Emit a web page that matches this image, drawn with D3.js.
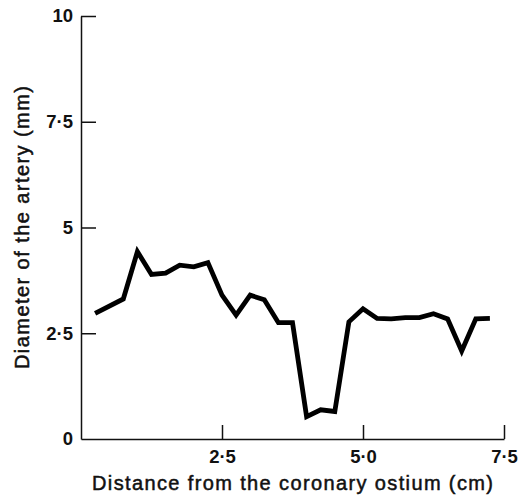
<!DOCTYPE html>
<html><head><meta charset="utf-8">
<script src="https://cdn.jsdelivr.net/npm/d3@7"></script>
<style>body{margin:0;background:#fff}</style>
</head><body>
<svg id="c" width="519" height="497"></svg>
<script>
const distance = [0.25,0.75,1.0,1.25,1.5,1.75,2.0,2.25,2.5,2.75,3.0,3.25,3.5,3.75,4.0,4.25,4.5,4.75,5.0,5.25,5.5,5.75,6.0,6.25,6.5,6.75,7.0,7.25];
const diameter = [2.97,3.31,4.43,3.89,3.92,4.11,4.07,4.17,3.40,2.93,3.40,3.29,2.75,2.75,0.53,0.69,0.65,2.77,3.08,2.85,2.84,2.87,2.87,2.96,2.84,2.08,2.84,2.85];
const xTicks = [2.5,5.0,7.5];
const xTickLabels = ["2·5","5·0","7·5"];
const yTicks = [0,2.5,5,7.5,10];
const yTickLabels = ["0","2·5","5","7·5","10"];

const svg = d3.select("#c");
const x = d3.scaleLinear().domain([0,7.5]).range([81,504]);
const y = d3.scaleLinear().domain([0,10]).range([439,16]);
const font = "'Liberation Sans', Arial, Helvetica, sans-serif";

const gx = svg.append("g").attr("transform","translate(0,439)")
  .call(d3.axisBottom(x).tickValues(xTicks).tickFormat((d,i)=>xTickLabels[i]).tickSizeInner(-14).tickSizeOuter(0).tickPadding(11));
const gy = svg.append("g").attr("transform","translate(81,0)")
  .call(d3.axisLeft(y).tickValues(yTicks).tickFormat((d,i)=>yTickLabels[i]).tickSizeInner(-15).tickSizeOuter(0).tickPadding(8));
[gx,gy].forEach(g=>{
  g.select(".domain").attr("stroke","#111").attr("stroke-width",1.5);
  g.selectAll(".tick line").attr("stroke","#111").attr("stroke-width",1.5);
  g.selectAll(".tick text").attr("fill","#111").style("font-family",font).style("font-size","18.5px").style("font-weight","bold");
});
gy.selectAll(".tick").filter(d=>d===0).select("line").remove();

svg.append("path").datum(distance.map((d,i)=>[d,diameter[i]]))
  .attr("fill","none").attr("stroke","#000").attr("stroke-width",4.8)
  .attr("stroke-linejoin","miter").attr("stroke-miterlimit",3)
  .attr("d", d3.line().x(d=>x(d[0])).y(d=>y(d[1])));

svg.append("text").attr("x",92).attr("y",490)
  .attr("textLength",401).attr("lengthAdjust","spacing")
  .style("font-family",font).style("font-size","20px").attr("fill","#111")
  .attr("stroke","#111").attr("stroke-width",0.5)
  .text("Distance from the coronary ostium (cm)");
svg.append("text").attr("transform","translate(29,369) rotate(-90)")
  .attr("textLength",283).attr("lengthAdjust","spacing")
  .style("font-family",font).style("font-size","20px").attr("fill","#111")
  .attr("stroke","#111").attr("stroke-width",0.5)
  .text("Diameter of the artery (mm)");
</script>
</body></html>
